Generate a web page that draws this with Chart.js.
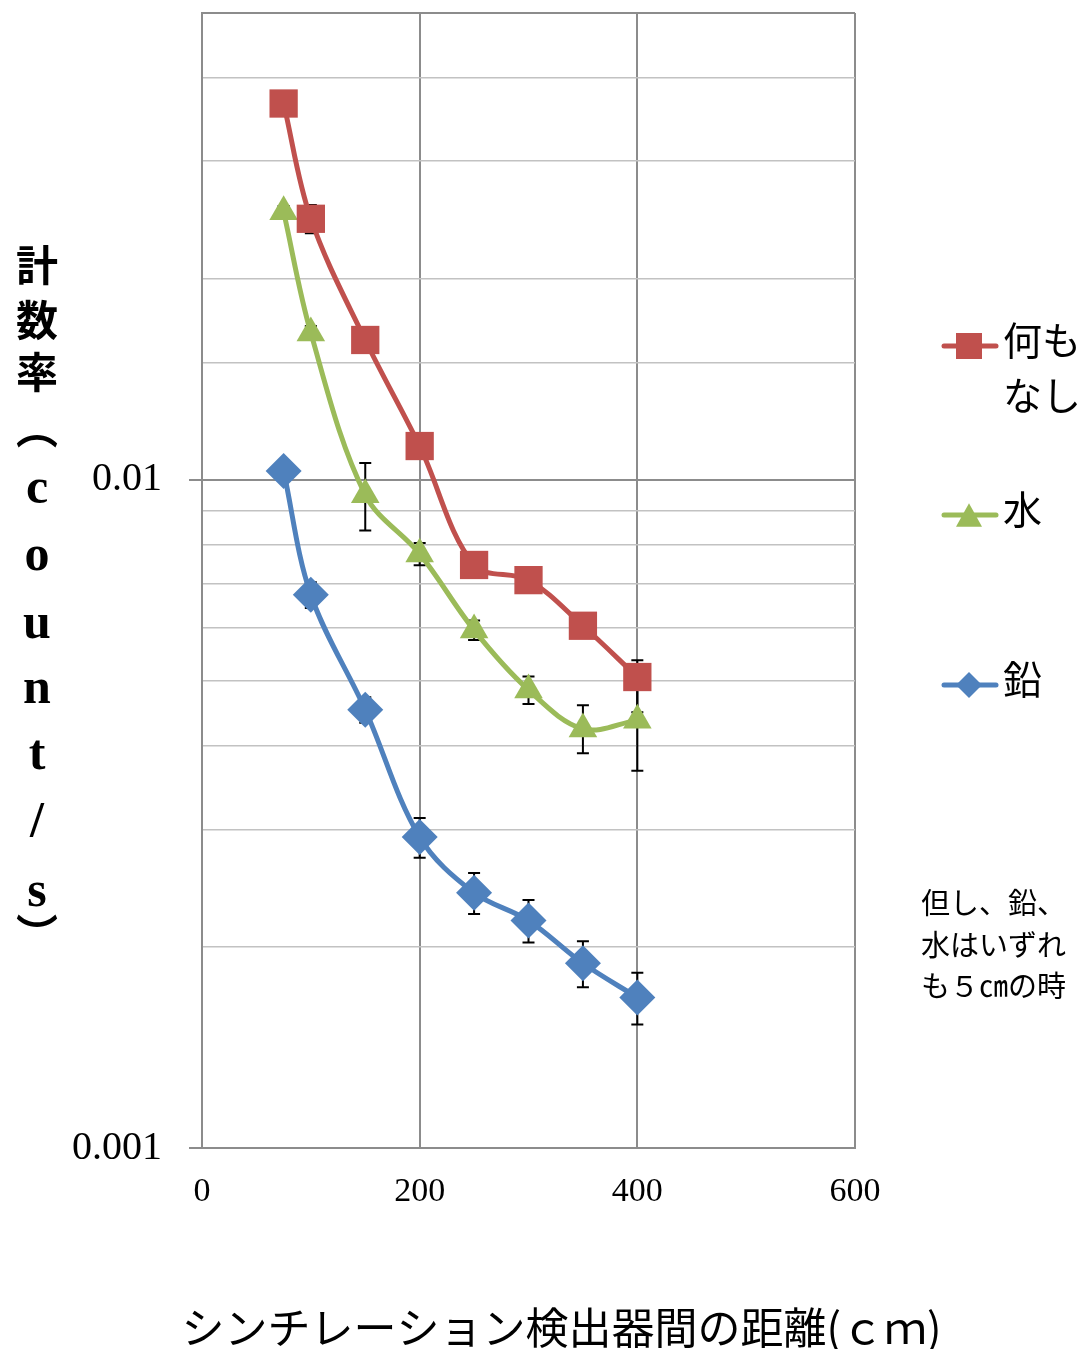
<!DOCTYPE html>
<html>
<head>
<meta charset="utf-8">
<script src="https://cdn.jsdelivr.net/npm/chart.js@4"></script>
<style>
  html, body { margin: 0; padding: 0; background: #fff; }
  #wrap { position: relative; width: 1088px; height: 1349px; }
</style>
</head>
<body>
<div id="wrap"><canvas id="c" width="1088" height="1349"></canvas></div>
<script>
// Distance between the scintillation detectors (cm)
const distances = [75, 100, 150, 200, 250, 300, 350, 400];

// Count rates (counts/s) for each shielding condition
const noneRate  = [0.0366, 0.0246, 0.0162, 0.01124, 0.00746, 0.00708, 0.00605, 0.00507];
const waterRate = [0.0252, 0.0166, 0.0095, 0.00775, 0.00596, 0.00485, 0.00424, 0.00437];
const leadRate  = [0.01031, 0.00673, 0.00453, 0.00292, 0.00241, 0.00219, 0.00189, 0.00168];

// Error bar half-lengths (counts/s)
const noneErrPlus   = [0.0010, 0.0012, 0.0005, 0.0003, 0.0002, 0.0002, 0.0002, 0.0003];
const noneErrMinus  = [0.0010, 0.0012, 0.0005, 0.0003, 0.0002, 0.0002, 0.0002, 0.00058];
const waterErrPlus  = [0.0005, 0.0004, 0.0011, 0.0003, 0.0002, 0.00023, 0.00036, 0.0007];
const waterErrMinus = [0.0005, 0.0004, 0.0011, 0.0003, 0.0002, 0.00023, 0.00034, 0.0007];
const leadErrPlus   = [0.0003, 0.0003, 0.0002, 0.0002, 0.00017, 0.00016, 0.00015, 0.00015];
const leadErrMinus  = [0.0003, 0.0003, 0.0002, 0.0002, 0.00017, 0.00016, 0.00015, 0.00015];

// Series names and the wrapped form used in the legend
const seriesNames = ['何もなし', '水', '鉛'];
const legendLines = [['何も', 'なし'], ['水'], ['鉛']];

// Axis labels
const yMajorValues = [0.001, 0.01];
const yTickLabels = ['0.001', '0.01'];
const xTickValues = [0, 200, 400, 600];
const yTitleChars = ['計', '数', '率', '︵', 'c', 'o', 'u', 'n', 't', '/', 's', '︶'];
const xTitle = 'シンチレーション検出器間の距離(ｃｍ)';
const noteLines = ['但し、鉛、', '水はいずれ', 'も５㎝の時'];

const colors = ['#C0504D', '#9BBB59', '#4F81BD'];
const rates = [noneRate, waterRate, leadRate];
const errPlus = [noneErrPlus, waterErrPlus, leadErrPlus];
const errMinus = [noneErrMinus, waterErrMinus, leadErrMinus];
const styles = ['rect', 'triangle', 'rectRot'];
const radii = [20, 16.5, 18];

const MAJOR = '#8c8c8c';
const MINOR = '#c2c2c2';

// Plot frame inside the 1088 x 1349 canvas
const FRAME = { left: 202, top: 13, right: 855, bottom: 1148 };

function isDecade(v) {
  const l = Math.log10(v);
  return Math.abs(l - Math.round(l)) < 1e-9;
}

// Black error bars with caps, drawn underneath the lines and markers
const errorBars = {
  id: 'errorBars',
  beforeDatasetsDraw(chart) {
    const { ctx, scales: { x, y } } = chart;
    ctx.save();
    ctx.strokeStyle = '#000';
    ctx.lineWidth = 2;
    const cap = 6;
    rates.forEach((vals, s) => {
      vals.forEach((v, i) => {
        const px = x.getPixelForValue(distances[i]);
        const hi = y.getPixelForValue(v + errPlus[s][i]);
        const lo = y.getPixelForValue(v - errMinus[s][i]);
        ctx.beginPath();
        ctx.moveTo(px, hi); ctx.lineTo(px, lo);
        ctx.moveTo(px - cap, hi); ctx.lineTo(px + cap, hi);
        ctx.moveTo(px - cap, lo); ctx.lineTo(px + cap, lo);
        ctx.stroke();
      });
    });
    ctx.restore();
  }
};

function drawMarker(ctx, style, cx, cy, size) {
  ctx.beginPath();
  if (style === 'rect') {
    ctx.rect(cx - size / 2, cy - size / 2, size, size);
  } else if (style === 'triangle') {
    const h = size * 0.9;
    ctx.moveTo(cx, cy - h / 2);
    ctx.lineTo(cx + size / 2, cy + h / 2);
    ctx.lineTo(cx - size / 2, cy + h / 2);
    ctx.closePath();
  } else {
    ctx.moveTo(cx, cy - size / 2);
    ctx.lineTo(cx + size / 2, cy);
    ctx.lineTo(cx, cy + size / 2);
    ctx.lineTo(cx - size / 2, cy);
    ctx.closePath();
  }
  ctx.fill();
}

// Legend on the right, axis titles and the footnote
const decorations = {
  id: 'decorations',
  afterDraw(chart) {
    const ctx = chart.ctx;
    const area = chart.chartArea;
    ctx.save();

    // legend
    const legendY = [346, 515, 685];
    const textX = 1003;
    legendLines.forEach((lines, s) => {
      const ly = legendY[s];
      ctx.strokeStyle = colors[s];
      ctx.fillStyle = colors[s];
      ctx.lineWidth = 5;
      ctx.lineCap = 'round';
      ctx.beginPath();
      ctx.moveTo(944, ly); ctx.lineTo(996, ly);
      ctx.stroke();
      drawMarker(ctx, styles[s], 969, ly, 26);
      ctx.fillStyle = '#000';
      ctx.font = '39px "Noto Sans CJK JP"';
      ctx.textAlign = 'left';
      ctx.textBaseline = 'middle';
      lines.forEach((t, k) => ctx.fillText(t, textX, ly - 6 + k * 55));
    });

    // footnote
    ctx.font = '29px "Noto Sans CJK JP"';
    ctx.fillStyle = '#000';
    ctx.textAlign = 'left';
    ctx.textBaseline = 'middle';
    const noteY = [903, 945, 986];
    noteLines.forEach((t, k) => ctx.fillText(t, 921, noteY[k]));

    // horizontal axis title
    ctx.font = '43px "Noto Sans CJK JP"';
    ctx.textAlign = 'center';
    ctx.fillText(xTitle, (area.left + area.right) / 2 + 33, 1328);

    // vertical y-axis title, one character per row
    const rowY = [265, 320, 372, 428, 490, 557, 625, 690, 756, 823, 893, 934];
    ctx.textAlign = 'center';
    ctx.textBaseline = 'middle';
    yTitleChars.forEach((ch, k) => {
      if (/[a-z\/]/.test(ch)) {
        ctx.font = 'bold 50px "Liberation Serif"';
      } else {
        ctx.font = 'bold 42px "Noto Sans CJK JP"';
      }
      ctx.fillText(ch, 37, rowY[k]);
    });

    ctx.restore();
  }
};

// Pin the plot frame so tick label overhang does not shrink it
function pinEdges(scale) {
  scale.paddingTop = 0;
  scale.paddingBottom = 0;
  scale.paddingLeft = 0;
  scale.paddingRight = 0;
}

const datasets = seriesNames.map((name, s) => ({
  label: name,
  data: distances.map((d, i) => ({ x: d, y: rates[s][i] })),
  borderColor: colors[s],
  backgroundColor: colors[s],
  pointBackgroundColor: colors[s],
  pointBorderColor: colors[s],
  pointBorderWidth: 0,
  pointStyle: styles[s],
  pointRadius: radii[s],
  borderWidth: 5,
  tension: 0.35,
  clip: false
}));

new Chart(document.getElementById('c'), {
  type: 'line',
  data: { datasets },
  plugins: [errorBars, decorations],
  options: {
    responsive: false,
    animation: false,
    events: [],
    layout: {
      autoPadding: false,
      padding: { left: 0, right: 1088 - FRAME.right, top: FRAME.top, bottom: 0 }
    },
    plugins: { legend: { display: false }, tooltip: { enabled: false } },
    scales: {
      x: {
        type: 'linear',
        min: 0,
        max: 600,
        afterBuildTicks(scale) { scale.ticks = xTickValues.map(v => ({ value: v })); },
        ticks: {
          color: '#000',
          font: { family: 'Liberation Serif', size: 34 },
          padding: 24,
          maxRotation: 0
        },
        grid: { color: MAJOR, lineWidth: 2, drawTicks: false },
        border: { color: MAJOR, width: 2 },
        afterFit(scale) { scale.height = 1349 - FRAME.bottom; pinEdges(scale); }
      },
      y: {
        type: 'logarithmic',
        min: 0.001,
        max: 0.05,
        ticks: {
          autoSkip: false,
          color: '#000',
          font: { family: 'Liberation Serif', size: 40 },
          padding: 27,
          callback(value) {
            const k = yMajorValues.findIndex(m => Math.abs(m - value) < m * 1e-6);
            return k >= 0 ? yTickLabels[k] : '';
          }
        },
        grid: {
          color: c => (isDecade(c.tick.value) || c.tick.value >= 0.05 ? MAJOR : MINOR),
          lineWidth: c => (isDecade(c.tick.value) || c.tick.value >= 0.05 ? 2 : 1.5),
          tickLength: 13,
          tickColor: c => (isDecade(c.tick.value) ? MAJOR : 'rgba(0,0,0,0)')
        },
        border: { color: MAJOR, width: 2 },
        afterFit(scale) { scale.width = FRAME.left; pinEdges(scale); }
      }
    }
  }
});
</script>
</body>
</html>
